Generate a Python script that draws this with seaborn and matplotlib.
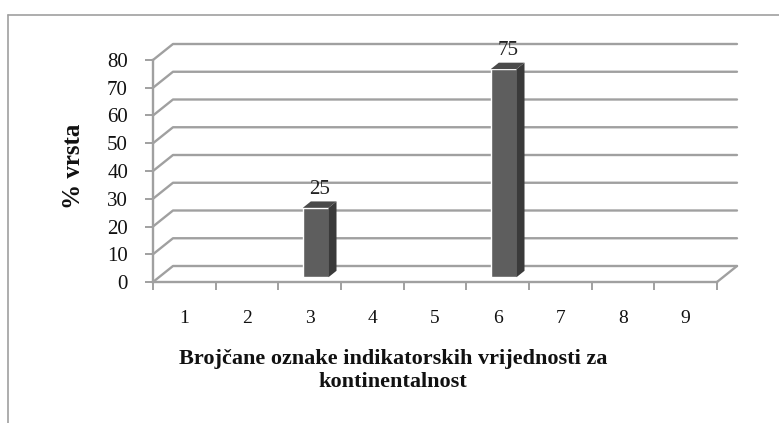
import numpy as np
import pandas as pd
import matplotlib
matplotlib.use("Agg")
import matplotlib.pyplot as plt
import seaborn as sns
from matplotlib.patches import Polygon
from matplotlib.lines import Line2D

# data
categories = ['1', '2', '3', '4', '5', '6', '7', '8', '9']
values = [0, 0, 25, 0, 0, 75, 0, 0, 0]
y_ticks = [0, 10, 20, 30, 40, 50, 60, 70, 80]

sns.set_style("white")
plt.rcParams['font.family'] = ['Liberation Serif', 'DejaVu Serif']

W, H = 779, 423
fig = plt.figure(figsize=(W / 100, H / 100), dpi=100)
ax = fig.add_axes([153 / W, 1 - 282 / H, 564 / W, 222 / H])

df = pd.DataFrame({'cat': categories, 'val': values})
sns.barplot(data=df, x='cat', y='val', color='#5e5e5e', width=0.41,
            saturation=1, ax=ax, zorder=3)
ax.set_xlim(-0.5, 8.5)
ax.set_ylim(0, 80)

# fake 3d depth of the chart box (data units)
dx = 20 / 62.7
dy = 16 / 2.775
grid_c = '#a0a0a0'

for t in y_ticks:
    ax.plot([-0.5, -0.5 + dx, 8.5 + dx], [t, t + dy, t + dy],
            color=grid_c, lw=1.7, clip_on=False, zorder=1)
ax.plot([8.5, 8.5 + dx], [0, dy], color=grid_c, lw=1.7, clip_on=False, zorder=1)

# bars sit a bit inside the box, with side and top faces
ox, oy = 0.3 * dx, 0.3 * dy
bx, by = 0.4 * dx, 0.4 * dy
for patch, val in zip(ax.patches, values):
    if val == 0:
        patch.set_visible(False)
        continue
    x0 = patch.get_x() + ox
    x1 = x0 + patch.get_width()
    patch.set_x(x0)
    patch.set_y(oy)
    top = val + oy
    side = Polygon([(x1, oy), (x1 + bx, oy + by), (x1 + bx, top + by), (x1, top)],
                   closed=True, facecolor='#3a3a3a', edgecolor='none', zorder=3)
    cap = Polygon([(x0, top), (x1, top), (x1 + bx, top + by), (x0 + bx, top + by)],
                  closed=True, facecolor='#4a4a4a', edgecolor='none', zorder=3)
    ax.add_patch(side)
    ax.add_patch(cap)
    ax.text((x0 + x1) / 2 + bx / 2, top + by + 1.0, str(val), ha='center',
            va='bottom', fontsize=15, color='#222222', zorder=4)

for s in ['top', 'right']:
    ax.spines[s].set_visible(False)
for s in ['left', 'bottom']:
    ax.spines[s].set_color(grid_c)
    ax.spines[s].set_linewidth(1.7)
    ax.spines[s].set_zorder(2)

ax.set_yticks(y_ticks)
ax.set_xticks(range(len(categories)), categories)
ax.set_xticks(np.arange(-0.5, 9, 1), minor=True)
ax.tick_params(axis='y', left=True, length=6, width=1.4, color=grid_c,
               pad=12, labelsize=15, labelcolor='#111111')
ax.tick_params(axis='x', which='major', bottom=True, length=0, pad=20,
               labelsize=14, labelcolor='#111111')
ax.tick_params(axis='x', which='minor', bottom=True, length=6, width=1.4,
               color=grid_c)

ax.set_ylabel('% vrsta', fontsize=18, fontweight='bold', color='#111111')
ax.yaxis.set_label_coords(-0.12, 0.52)
ax.set_xlabel('Brojčane oznake indikatorskih vrijednosti za\nkontinentalnost',
              fontsize=16, fontweight='bold', color='#111111', linespacing=1.25)
ax.xaxis.set_label_coords(0.4255, -0.30)

# outer chart border (only top and left show in the crop)
fig.add_artist(Line2D([8 / W, 1], [1 - 15 / H, 1 - 15 / H], color=grid_c,
                      lw=1.2, transform=fig.transFigure))
fig.add_artist(Line2D([8 / W, 8 / W], [0, 1 - 15 / H], color=grid_c,
                      lw=1.2, transform=fig.transFigure))

fig.savefig('out.png', dpi=100, facecolor='white')
